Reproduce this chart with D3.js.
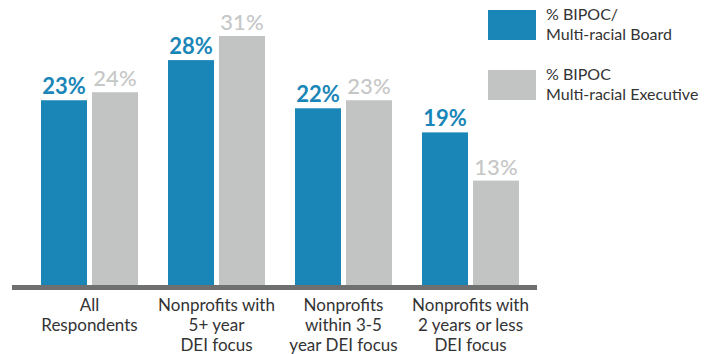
<!DOCTYPE html>
<html>
<head>
<meta charset="utf-8">
<script src="https://cdn.jsdelivr.net/npm/d3@7"></script>
<style>
  body { margin: 0; background: #fff; }
  svg { font-family: Lato, "Open Sans", sans-serif; }
</style>
</head>
<body>
<svg id="chart"></svg>
<script>
// Data
const categories = [
  ["All", "Respondents"],
  ["Nonprofits with", "5+ year", "DEI focus"],
  ["Nonprofits", "within 3-5", "year DEI focus"],
  ["Nonprofits with", "2 years or less", "DEI focus"]
];
const seriesNames = ["board", "exec"];
const boardValues = [23, 28, 22, 19];
const execValues = [24, 31, 23, 13];
const legendLabels = [["% BIPOC/", "Multi-racial Board"], ["% BIPOC", "Multi-racial Executive"]];

const width = 713, height = 354;
const baseline = 285;
const colors = { board: "#1a86b8", exec: "#c2c3c3" };
const labelColors = { board: "#1a86b8", exec: "#c6c7c7" };

const svg = d3.select("#chart")
  .attr("width", width)
  .attr("height", height);

const catKeys = categories.map((d, i) => i);

// Group scale
const x0 = d3.scaleBand()
  .domain(catKeys)
  .range([26, 534])
  .paddingInner(30 / 127)
  .paddingOuter(15 / 127);

// Bars within a group
const x1 = d3.scaleBand()
  .domain(seriesNames)
  .range([0, x0.bandwidth()])
  .paddingInner(5 / 51);

const y = d3.scaleLinear()
  .domain([0, 31])
  .range([baseline, 36]);

const rows = catKeys.map(i => ({
  cat: i,
  values: [
    { key: "board", value: boardValues[i] },
    { key: "exec", value: execValues[i] }
  ]
}));

const groups = svg.selectAll("g.group")
  .data(rows)
  .enter()
  .append("g")
  .attr("class", "group")
  .attr("transform", d => `translate(${x0(d.cat)},0)`);

groups.selectAll("rect")
  .data(d => d.values)
  .enter()
  .append("rect")
  .attr("x", d => x1(d.key))
  .attr("y", d => y(d.value))
  .attr("width", x1.bandwidth())
  .attr("height", d => baseline - y(d.value))
  .attr("fill", d => colors[d.key]);

// Value labels
groups.selectAll("text.value")
  .data(d => d.values)
  .enter()
  .append("text")
  .attr("class", "value")
  .attr("x", d => x1(d.key) + x1.bandwidth() / 2)
  .attr("y", d => y(d.value) - 6)
  .attr("text-anchor", "middle")
  .attr("font-size", "22px")
  .attr("font-weight", d => d.key === "board" ? 700 : 500)
  .attr("fill", d => labelColors[d.key])
  .text(d => d.value + "%");

// Axis line
svg.append("line")
  .attr("x1", 12)
  .attr("x2", 537)
  .attr("y1", baseline + 2.5)
  .attr("y2", baseline + 2.5)
  .attr("stroke", "#6e6f71")
  .attr("stroke-width", 5);

// Category labels
const catLabels = svg.selectAll("text.cat")
  .data(catKeys)
  .enter()
  .append("text")
  .attr("class", "cat")
  .attr("text-anchor", "middle")
  .attr("font-size", "17px")
  .attr("fill", "#333")
  .attr("x", d => x0(d) + x0.bandwidth() / 2);

catLabels.selectAll("tspan")
  .data(d => categories[d])
  .enter()
  .append("tspan")
  .attr("x", function() { return d3.select(this.parentNode).attr("x"); })
  .attr("y", (d, i) => 311 + i * 20)
  .text(d => d);

// Legend
const legend = svg.append("g").attr("transform", "translate(488,10)");
seriesNames.forEach((key, i) => {
  const g = legend.append("g").attr("transform", `translate(0,${i * 60})`);
  g.append("rect")
    .attr("width", 48)
    .attr("height", 30)
    .attr("fill", colors[key]);
  g.selectAll("text")
    .data(legendLabels[i])
    .enter()
    .append("text")
    .attr("x", 58)
    .attr("y", (d, j) => 9.5 + j * 20)
    .attr("font-size", "16px")
    .attr("fill", "#333")
    .text(d => d);
});
</script>
</body>
</html>
